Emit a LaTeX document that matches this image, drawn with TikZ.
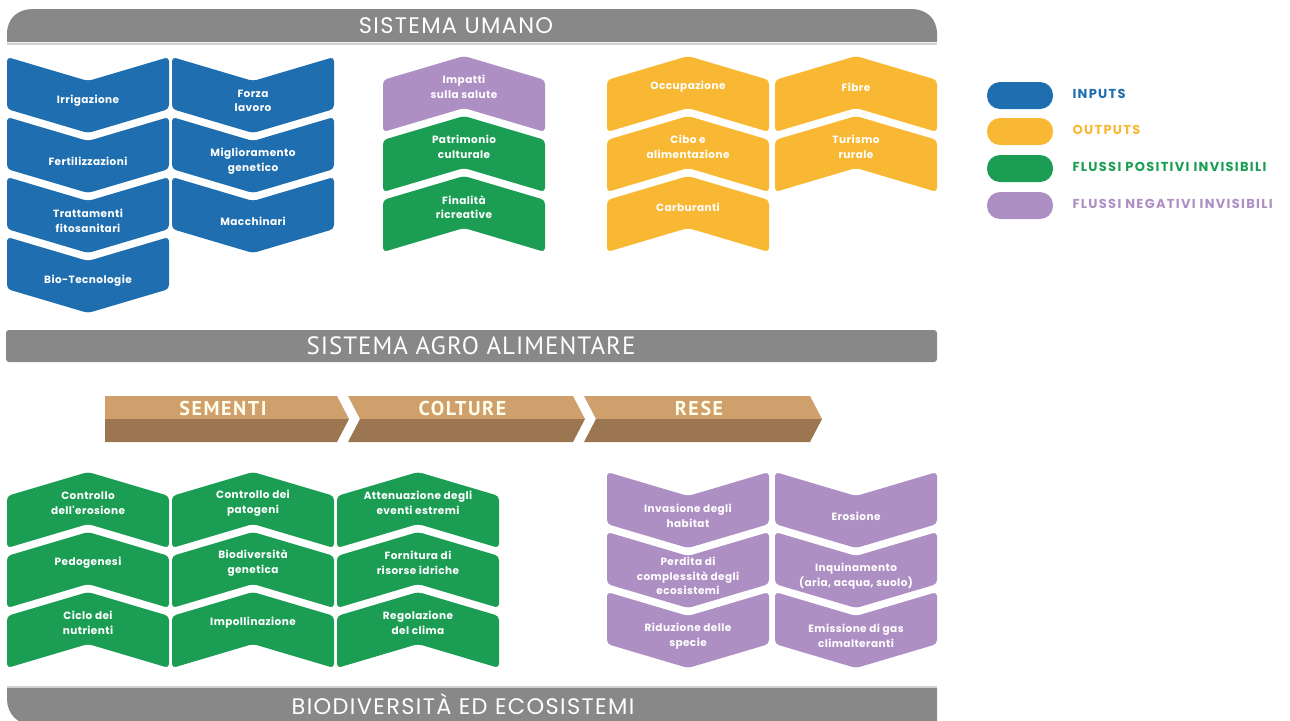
\documentclass[tikz,border=0pt]{standalone}
\usepackage{fontspec}
\setmainfont{Poppins}
\newfontfamily\vocefont[LetterSpace=4]{Poppins}
\newfontfamily\titolofont[LetterSpace=6]{Poppins}
\newfontfamily\legendafont[LetterSpace=10]{Poppins}
\newfontfamily\strettofont[LetterSpace=4]{PT Sans}
\newfontfamily\fasefont[LetterSpace=8]{PT Sans}
\definecolor{inputblu}{RGB}{31,110,176}
\definecolor{outputgiallo}{RGB}{249,184,52}
\definecolor{positivoverde}{RGB}{27,158,84}
\definecolor{negativoviola}{RGB}{174,143,195}
\definecolor{bandagrigia}{RGB}{135,136,135}
\definecolor{semechiaro}{RGB}{207,159,108}
\definecolor{semescuro}{RGB}{155,118,80}

\begin{document}
\begin{tikzpicture}[x=1pt,y=-1pt,
    chev/.style={rounded corners=4pt},
    voce/.style={text=white,align=center,font=\vocefont\bfseries\fontsize{10.5}{14.5}\selectfont},
    titolo/.style={text=white,font=\titolofont\fontsize{22.5}{22.5}\selectfont},
    titolostretto/.style={text=white,font=\strettofont\fontsize{25}{25}\selectfont},
    fase/.style={text=white!92!yellow,font=\fasefont\bfseries\fontsize{20}{20}\selectfont},
    legenda/.style={anchor=west,font=\legendafont\bfseries\fontsize{13}{13}\selectfont},
    pillola/.style={rounded corners=13pt}]

  \useasboundingbox (0,0) rectangle (1290,720);

  % bands
  \fill[bandagrigia] (7,42) -- (7,34) .. controls (7,18) and (18,9) .. (33,9) -- (911,9)
    .. controls (926,9) and (937,18) .. (937,34) -- (937,42) -- cycle;
  \draw[black!18,line width=2pt] (7,43.5) -- (937,43.5);
  \node[titolo] (umano) at (456,26) {SISTEMA UMANO};

  \fill[bandagrigia,rounded corners=3pt] (6,330) rectangle (937,362);
  \node[titolostretto] (agro) at (471,346) {SISTEMA AGRO ALIMENTARE};

  \fill[bandagrigia] (7,688) -- (937,688) -- (937,725) -- (33,725)
    .. controls (18,725) and (7,714) .. (7,699) -- cycle;
  \draw[black!18,line width=2pt] (7,686.5) -- (937,686.5);
  \node[titolo,anchor=base,inner sep=0pt] (biodiv) at (463,714) {BIODIVERSITÀ ED ECOSISTEMI};

  % chevrons pointing down
  \foreach \x/\y/\col/\nome/\testo in {
      7/57/inputblu/irrigazione/Irrigazione,
      7/117/inputblu/fertilizzazioni/Fertilizzazioni,
      7/177/inputblu/trattamenti/{Trattamenti\\fitosanitari},
      7/237/inputblu/biotec/Bio-Tecnologie,
      172/57/inputblu/forza/{Forza\\lavoro},
      172/117/inputblu/miglioramento/{Miglioramento\\genetico},
      172/177/inputblu/macchinari/Macchinari,
      607/472/negativoviola/invasione/{Invasione degli\\habitat},
      607/532/negativoviola/perdita/{Perdita di\\complessità degli\\ecosistemi},
      607/592/negativoviola/riduzione/{Riduzione delle\\specie},
      775/472/negativoviola/erosione/Erosione,
      775/532/negativoviola/inquinamento/{Inquinamento\\(aria, acqua, suolo)},
      775/592/negativoviola/emissione/{Emissione di gas\\climalteranti}}
  {
    \fill[\col,chev] (\x,\y) -- ++(81,24) -- ++(81,-24) -- ++(0,52) -- ++(-81,24) -- ++(-81,-24) -- cycle;
    \node[voce] (\nome) at (\x+81,\y+44) {\testo};
  }

  % chevrons pointing up
  \foreach \x/\y/\col/\nome/\testo in {
      383/56/negativoviola/impatti/{Impatti\\sulla salute},
      383/116/positivoverde/patrimonio/{Patrimonio\\culturale},
      383/176/positivoverde/finalita/{Finalità\\ricreative},
      607/56/outputgiallo/occupazione/Occupazione,
      607/116/outputgiallo/cibo/{Cibo e\\alimentazione},
      607/176/outputgiallo/carburanti/Carburanti,
      775/56/outputgiallo/fibre/Fibre,
      775/116/outputgiallo/turismo/{Turismo\\rurale},
      7/472/positivoverde/controllo/{Controllo\\dell'erosione},
      7/532/positivoverde/pedogenesi/Pedogenesi,
      7/592/positivoverde/ciclo/{Ciclo dei\\nutrienti},
      172/472/positivoverde/patogeni/{Controllo dei\\patogeni},
      172/532/positivoverde/biodiversita/{Biodiversità\\genetica},
      172/592/positivoverde/impollinazione/Impollinazione,
      337/472/positivoverde/attenuazione/{Attenuazione degli\\eventi estremi},
      337/532/positivoverde/fornitura/{Fornitura di\\risorse idriche},
      337/592/positivoverde/regolazione/{Regolazione\\del clima}}
  {
    \fill[\col,chev] (\x,\y+24) -- ++(81,-24) -- ++(81,24) -- ++(0,52) -- ++(-81,-24) -- ++(-81,24) -- cycle;
    \node[voce] (\nome) at (\x+81,\y+31) {\testo};
  }

  % sementi colture rese
  \foreach \a/\b/\t/\nome/\testo in {105/337/0/sementi/SEMENTI, 348/573/12/colture/COLTURE, 584/810/12/rese/RESE}
  {
    \fill[semechiaro] (\a,396) -- (\b,396) -- (\b+12,419) -- (\a+\t,419) -- cycle;
    \fill[semescuro] (\a+\t,419) -- (\b+12,419) -- (\b,442) -- (\a,442) -- cycle;
    \node[fase] (\nome) at ({(\a+\b)/2+2},408) {\testo};
  }

  % legend
  \foreach \y/\col/\nome/\testo in {82/inputblu/inputs/INPUTS, 118/outputgiallo/outputs/OUTPUTS,
      155/positivoverde/positivi/FLUSSI POSITIVI INVISIBILI, 192/negativoviola/negativi/FLUSSI NEGATIVI INVISIBILI}
  {
    \fill[\col,pillola] (987,\y) rectangle ++(66,27);
    \node[legenda,text=\col] (\nome) at (1069,\y+12) {\testo};
  }

\end{tikzpicture}
\end{document}
